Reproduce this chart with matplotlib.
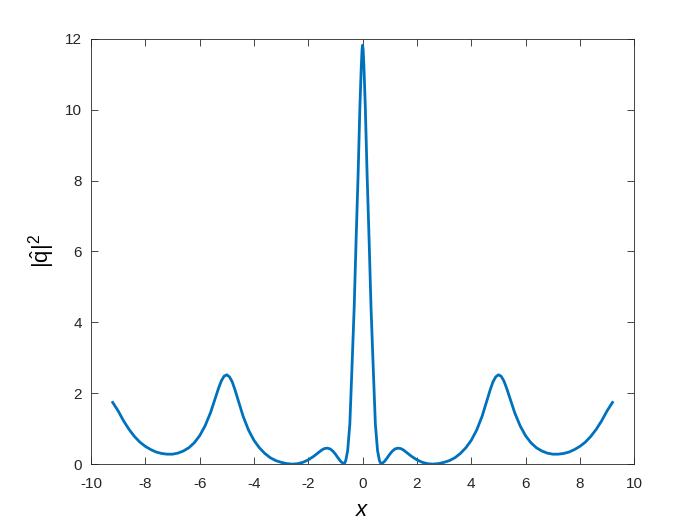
import numpy as np
import matplotlib.pyplot as plt

plt.rcParams['font.family'] = ['Liberation Sans', 'DejaVu Sans']
plt.rcParams['mathtext.fontset'] = 'custom'
plt.rcParams['mathtext.rm'] = 'Liberation Sans'
plt.rcParams['mathtext.it'] = 'Liberation Sans:italic'
plt.rcParams['axes.unicode_minus'] = False

# left half
x_left = [-9.2, -9.0, -8.8, -8.6, -8.4, -8.2, -8.0, -7.8, -7.6, -7.4, -7.2, -7.0,
          -6.8, -6.6, -6.4, -6.2, -6.0, -5.8, -5.6, -5.45, -5.3, -5.2, -5.1, -5.0,
          -4.9, -4.8, -4.7, -4.6, -4.4, -4.2, -4.0, -3.8, -3.6, -3.4, -3.2, -3.0,
          -2.8, -2.6, -2.4, -2.2, -2.0, -1.8, -1.6, -1.5, -1.4, -1.3, -1.2, -1.1,
          -1.0, -0.9, -0.8, -0.68, -0.62, -0.55, -0.47, -0.40, -0.31, -0.24,
          -0.165, -0.10, -0.05, -0.02, 0.0]
q_left = [1.74, 1.50, 1.22, 0.98, 0.78, 0.62, 0.50, 0.41, 0.34, 0.30, 0.28, 0.28,
          0.31, 0.37, 0.46, 0.60, 0.80, 1.08, 1.45, 1.80, 2.15, 2.35, 2.48, 2.52,
          2.46, 2.32, 2.10, 1.85, 1.35, 0.96, 0.67, 0.46, 0.30, 0.18, 0.10, 0.05,
          0.015, 0.0, 0.01, 0.05, 0.12, 0.22, 0.34, 0.40, 0.44, 0.45, 0.43, 0.37,
          0.28, 0.17, 0.07, 0.0, 0.10, 0.38, 1.13, 2.54, 4.42, 6.31,
          8.19, 10.07, 11.2, 11.7, 11.82]

# right half, the curve is symmetric
x_right = [0.02, 0.05, 0.10, 0.165, 0.24, 0.31, 0.40, 0.47, 0.55, 0.62, 0.68,
           0.8, 0.9, 1.0, 1.1, 1.2, 1.3, 1.4, 1.5, 1.6, 1.8, 2.0, 2.2, 2.4, 2.6,
           2.8, 3.0, 3.2, 3.4, 3.6, 3.8, 4.0, 4.2, 4.4, 4.6, 4.7, 4.8, 4.9, 5.0,
           5.1, 5.2, 5.3, 5.45, 5.6, 5.8, 6.0, 6.2, 6.4, 6.6, 6.8, 7.0, 7.2, 7.4,
           7.6, 7.8, 8.0, 8.2, 8.4, 8.6, 8.8, 9.0, 9.2]
q_right = [11.7, 11.2, 10.07, 8.19, 6.31, 4.42, 2.54, 1.13, 0.38, 0.10, 0.0,
           0.07, 0.17, 0.28, 0.37, 0.43, 0.45, 0.44, 0.40, 0.34, 0.22, 0.12, 0.05,
           0.01, 0.0, 0.015, 0.05, 0.10, 0.18, 0.30, 0.46, 0.67, 0.96, 1.35, 1.85,
           2.10, 2.32, 2.46, 2.52, 2.48, 2.35, 2.15, 1.80, 1.45, 1.08, 0.80, 0.60,
           0.46, 0.37, 0.31, 0.28, 0.28, 0.30, 0.34, 0.41, 0.50, 0.62, 0.78, 0.98,
           1.22, 1.50, 1.74]

fig = plt.figure(figsize=(7, 5.25), dpi=100)
ax = fig.add_axes([0.13, 0.116, 0.776, 0.81])
ax.plot(x_left + x_right, q_left + q_right, color='#0072BD', linewidth=2)

ax.set_xlim(-10, 10)
ax.set_ylim(0, 12)
ax.set_xticks(np.arange(-10, 11, 2))
ax.set_yticks(np.arange(0, 13, 2))
ax.tick_params(direction='in', top=True, right=True, labelsize=11, length=5,
               width=0.6, colors='#262626')
ax.tick_params(axis='x', pad=9)
ax.tick_params(axis='y', pad=6.5)
for s in ax.spines.values():
    s.set_linewidth(0.6)
    s.set_color('#262626')

ax.set_xlabel('$x$', fontsize=16, labelpad=7)
ax.set_ylabel(r'$|\hat{\mathrm{q}}|^2$', fontsize=16, labelpad=6)

plt.savefig('out.png')
